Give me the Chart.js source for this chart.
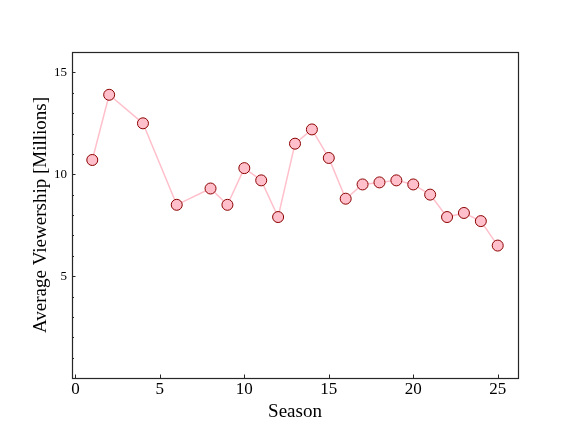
<!DOCTYPE html>
<html>
<head>
<meta charset="utf-8">
<script src="https://cdn.jsdelivr.net/npm/chart.js@4"></script>
<style>
  html, body { margin: 0; padding: 0; background: #fff; }
  #wrap { width: 576px; height: 432px; }
</style>
</head>
<body>
<div id="wrap"><canvas id="viewChart" width="576" height="432"></canvas></div>
<script>
// data
const seasons = [1, 2, 4, 6, 8, 9, 10, 11, 12, 13, 14, 15, 16, 17, 18, 19, 20, 21, 22, 23, 24, 25];
const viewers = [10.7, 13.9, 12.5, 8.5, 9.3, 8.5, 10.3, 9.7, 7.9, 11.5, 12.2, 10.8, 8.8, 9.5, 9.6, 9.7, 9.5, 9.0, 7.9, 8.1, 7.7, 6.5];
const xTicks = [0, 5, 10, 15, 20, 25];
const yTicks = [5, 10, 15];
const yMinorTicks = [1, 2, 3, 4, 6, 7, 8, 9, 11, 12, 13, 14, 16];

const serif = "'Liberation Serif', 'DejaVu Serif', serif";

// matplotlib-ish frame with inward ticks
const framePlugin = {
  id: 'frame',
  afterDatasetsDraw(c) {
    const { ctx, chartArea: a, scales: { x, y } } = c;
    ctx.save();
    ctx.strokeStyle = '#262626';
    ctx.lineWidth = 1;
    ctx.beginPath();
    xTicks.forEach(v => {
      const px = Math.round(x.getPixelForValue(v)) + 0.5;
      ctx.moveTo(px, a.bottom); ctx.lineTo(px, a.bottom - 3.5);
    });
    yTicks.forEach(v => {
      const py = Math.round(y.getPixelForValue(v)) + 0.5;
      ctx.moveTo(a.left, py); ctx.lineTo(a.left + 3.5, py);
    });
    yMinorTicks.forEach(v => {
      const py = Math.round(y.getPixelForValue(v)) + 0.5;
      ctx.moveTo(a.left, py); ctx.lineTo(a.left + 2, py);
    });
    ctx.stroke();
    ctx.lineWidth = 1.2;
    ctx.strokeRect(a.left + 0.5, a.top + 0.5, a.right - a.left, a.bottom - a.top);
    ctx.restore();
  }
};

const ctx = document.getElementById('viewChart').getContext('2d');
new Chart(ctx, {
  type: 'line',
  data: {
    datasets: [{
      label: 'Average Viewership',
      data: seasons.map((s, i) => ({ x: s, y: viewers[i] })),
      borderColor: 'pink',
      borderWidth: 1.5,
      backgroundColor: 'pink',
      pointBackgroundColor: 'pink',
      pointBorderColor: 'darkred',
      pointBorderWidth: 1,
      pointRadius: 5.5,
      tension: 0
    }]
  },
  options: {
    responsive: false,
    animation: false,
    layout: { padding: { top: 52, right: 58, left: 0, bottom: 0 } },
    plugins: { legend: { display: false }, tooltip: { enabled: false } },
    scales: {
      x: {
        type: 'linear',
        min: -0.2,
        max: 26.2,
        afterBuildTicks: s => { s.ticks = xTicks.map(v => ({ value: v })); },
        afterFit: s => { s.height = 54; },
        grid: { display: false, drawTicks: false },
        border: { display: false },
        ticks: { color: '#000', padding: 1, font: { family: serif, size: 17 }, maxRotation: 0 },
        title: { display: true, text: 'Season', color: '#000', padding: { top: 0, bottom: 9 }, font: { family: serif, size: 19 } }
      },
      y: {
        min: 0,
        max: 16,
        afterBuildTicks: s => { s.ticks = yTicks.map(v => ({ value: v })); },
        afterFit: s => { s.width = 72; },
        grid: { display: false, drawTicks: false },
        border: { display: false },
        ticks: { color: '#000', padding: 5, font: { family: serif, size: 13 } },
        title: { display: true, text: 'Average Viewership [Millions]', color: '#000', padding: { top: 30, bottom: 0 }, font: { family: serif, size: 19 } }
      }
    }
  },
  plugins: [framePlugin]
});
</script>
</body>
</html>
